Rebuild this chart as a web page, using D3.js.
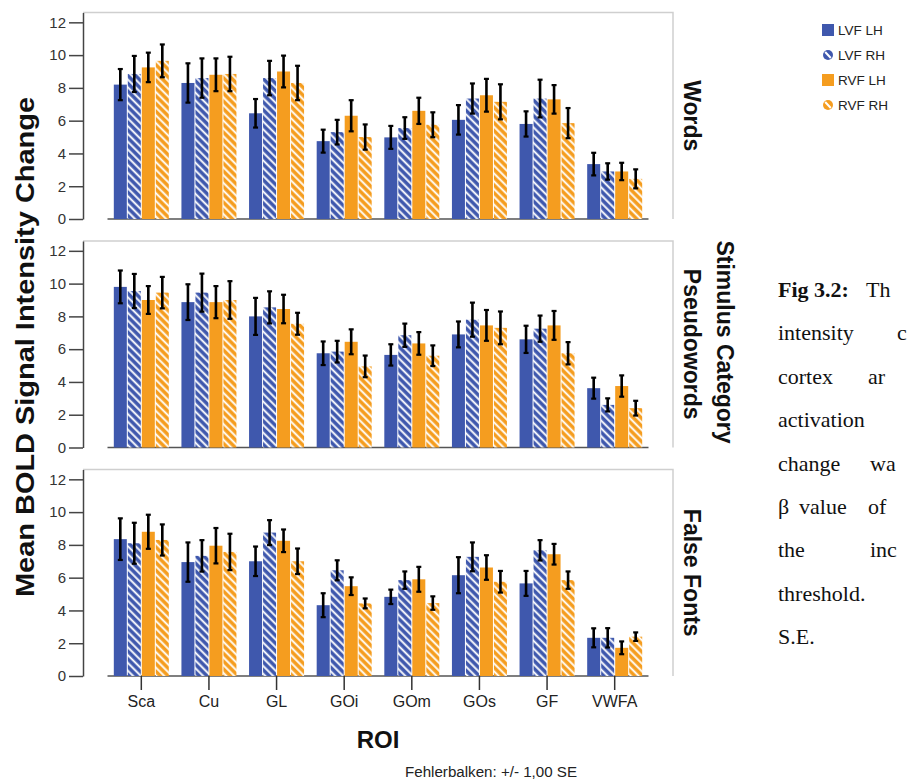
<!DOCTYPE html>
<html>
<head>
<meta charset="utf-8">
<script src="https://cdn.jsdelivr.net/npm/d3@7"></script>
<style>
body { margin: 0; background: #fff; }
svg { display: block; font-family: "Liberation Sans", Arial, sans-serif; }
</style>
</head>
<body>
<script>
// ----- data -----
const rois = ["Sca", "Cu", "GL", "GOi", "GOm", "GOs", "GF", "VWFA"];
const seriesNames = ["LVF LH", "LVF RH", "RVF LH", "RVF RH"];
const panelNames = ["Words", "Pseudowords", "False Fonts"];
const yTicks = [0, 2, 4, 6, 8, 10, 12];

// one row per ROI: [LVF LH, LVF RH, RVF LH, RVF RH]
const wordsMean = [
    [8.2, 8.85, 9.25, 9.65], [8.3, 8.6, 8.8, 8.85], [6.45, 8.6, 9.0, 8.3], [4.75, 5.3, 6.3, 5.0],
    [4.98, 5.55, 6.6, 5.75], [6.05, 7.35, 7.55, 7.15], [5.8, 7.35, 7.3, 5.85], [3.35, 2.9, 2.9, 2.45]
];
const wordsSE = [
    [0.95, 1.1, 0.9, 1.0], [1.2, 1.2, 1.0, 1.05], [0.87, 1.05, 0.97, 1.05], [0.7, 0.75, 0.95, 0.77],
    [0.7, 0.66, 0.8, 0.76], [0.9, 0.92, 1.0, 1.07], [0.77, 1.15, 0.87, 0.92], [0.69, 0.5, 0.53, 0.58]
];
const pseudoMean = [
    [9.8, 9.55, 9.0, 9.45], [8.87, 9.45, 8.87, 9.0], [8.0, 8.55, 8.45, 7.55], [5.75, 5.85, 6.45, 4.95],
    [5.65, 6.85, 6.35, 5.6], [6.9, 7.8, 7.45, 7.3], [6.6, 7.25, 7.45, 5.75], [3.62, 2.6, 3.75, 2.4]
];
const pseudoSE = [
    [1.0, 1.04, 0.85, 0.96], [1.09, 1.16, 0.98, 1.15], [1.13, 0.98, 0.87, 0.67], [0.72, 0.66, 0.76, 0.66],
    [0.65, 0.71, 0.69, 0.63], [0.79, 1.04, 0.94, 1.0], [0.83, 0.8, 0.88, 0.68], [0.64, 0.4, 0.65, 0.45]
];
const fontsMean = [
    [8.35, 8.1, 8.8, 8.3], [6.95, 7.33, 7.95, 7.57], [7.0, 8.75, 8.25, 7.0], [4.32, 6.45, 5.48, 4.43],
    [4.83, 5.85, 5.9, 4.45], [6.15, 7.27, 6.62, 5.75], [5.65, 7.67, 7.43, 5.85], [2.33, 2.33, 1.72, 2.4]
];
const fontsSE = [
    [1.27, 1.25, 1.04, 0.95], [1.2, 0.96, 1.08, 1.11], [0.9, 0.76, 0.69, 0.78], [0.73, 0.61, 0.54, 0.3],
    [0.44, 0.53, 0.76, 0.41], [1.1, 0.88, 0.75, 0.66], [0.76, 0.62, 0.63, 0.53], [0.58, 0.59, 0.39, 0.26]
];

const panelMeans = [wordsMean, pseudoMean, fontsMean];
const panelSEs = [wordsSE, pseudoSE, fontsSE];

// caption on the right, only the part that is visible in the source
const captionLines = [
    [["Fig 3.2:", true], ["Th", false]],
    [["intensity", false], ["c", false]],
    [["cortex", false], ["ar", false]],
    [["activation", false]],
    [["change", false], ["wa", false]],
    [["\u03b2", false], ["value", false], ["of", false]],
    [["the", false], ["inc", false]],
    [["threshold.", false]],
    [["S.E.", false]]
];
const captionWordX = [[778, 866], [778, 897], [778, 868], [778], [778, 870], [778, 799, 868], [778, 870], [778], [778]];

// ----- layout -----
const width = 914, height = 783;
const blue = "#3f58ad", orange = "#f59d1f";
const seriesColor = [blue, blue, orange, orange];
const seriesHatch = [false, true, false, true];

const axisX = 83, frameRight = 673;
const panelTop0 = 12.5, panelH = 206.5, panelStep = 228.5;

const svg = d3.select("body").append("svg")
    .attr("width", width)
    .attr("height", height);

// hatch patterns
const defs = svg.append("defs");
[["hatchBlue", blue], ["hatchOrange", orange]].forEach(function(p) {
    const pat = defs.append("pattern")
        .attr("id", p[0])
        .attr("patternUnits", "userSpaceOnUse")
        .attr("width", 5.5)
        .attr("height", 5.5)
        .attr("patternTransform", "rotate(-45)");
    pat.append("rect").attr("width", 5.5).attr("height", 5.5).attr("fill", p[1]);
    pat.append("line")
        .attr("x1", 1.2).attr("x2", 1.2)
        .attr("y1", 0).attr("y2", 5.5)
        .attr("stroke", "#fff")
        .attr("stroke-width", 1.9);
});

function fillFor(i) {
    if (!seriesHatch[i]) return seriesColor[i];
    return seriesColor[i] === blue ? "url(#hatchBlue)" : "url(#hatchOrange)";
}

// X scales
const x = d3.scaleBand().domain(rois).range([107.5, 648.5]).padding(0);
const xInner = d3.scaleBand().domain(d3.range(4)).range([0, 56]).padding(0);
const groupOffset = (x.bandwidth() - 56) / 2;

panelNames.forEach(function(name, p) {
    const top = panelTop0 + p * panelStep;
    const bottom = top + panelH;

    const y = d3.scaleLinear().domain([0, 12.6]).range([bottom, top]);

    const g = svg.append("g").attr("class", "panel");

    // frame (top + right)
    g.append("path")
        .attr("d", "M" + axisX + "," + top + "H" + frameRight + "V" + bottom)
        .attr("fill", "none")
        .attr("stroke", "#cfcfcf")
        .attr("stroke-width", 1.5);

    // baseline
    g.append("line")
        .attr("x1", x.range()[0]).attr("x2", x.range()[1])
        .attr("y1", y(0)).attr("y2", y(0))
        .attr("stroke", "#555")
        .attr("stroke-width", 1.5);

    // bars
    const rows = [];
    rois.forEach(function(r, ri) {
        for (let s = 0; s < 4; s++) {
            rows.push({ roi: r, s: s, mean: panelMeans[p][ri][s], se: panelSEs[p][ri][s] });
        }
    });

    g.selectAll(".bar")
        .data(rows)
        .enter()
        .append("rect")
        .attr("class", "bar")
        .attr("x", d => x(d.roi) + groupOffset + xInner(d.s) + 0.5)
        .attr("width", xInner.bandwidth() - 1)
        .attr("y", d => y(d.mean))
        .attr("height", d => y(0) - y(d.mean))
        .attr("fill", d => fillFor(d.s));

    // error bars
    const cx = d => x(d.roi) + groupOffset + xInner(d.s) + xInner.bandwidth() / 2;
    g.selectAll(".err")
        .data(rows)
        .enter()
        .append("line")
        .attr("class", "err")
        .attr("x1", cx).attr("x2", cx)
        .attr("y1", d => y(d.mean - d.se))
        .attr("y2", d => y(d.mean + d.se))
        .attr("stroke", "#000")
        .attr("stroke-width", 2.6);

    ["lo", "hi"].forEach(function(end) {
        g.selectAll(".cap-" + end)
            .data(rows)
            .enter()
            .append("line")
            .attr("x1", d => cx(d) - 2.5).attr("x2", d => cx(d) + 2.5)
            .attr("y1", d => y(end === "lo" ? d.mean - d.se : d.mean + d.se))
            .attr("y2", d => y(end === "lo" ? d.mean - d.se : d.mean + d.se))
            .attr("stroke", "#000")
            .attr("stroke-width", 2.2);
    });

    // left axis
    const ax = g.append("g")
        .attr("transform", "translate(" + axisX + ",0)")
        .call(d3.axisLeft(y).tickValues(yTicks).tickSize(14).tickSizeOuter(0).tickPadding(3));
    ax.select(".domain").attr("stroke", "#444").attr("stroke-width", 1.5);
    ax.selectAll(".tick line").attr("stroke", "#444").attr("stroke-width", 1.5);
    ax.selectAll(".tick text")
        .attr("fill", "#333")
        .style("font-size", "15px")
        .style("font-family", "'Liberation Sans', Arial, sans-serif");

    // strip label
    g.append("text")
        .attr("transform", "translate(684," + (top + panelH / 2) + ") rotate(90)")
        .attr("text-anchor", "middle")
        .style("font-size", "23px")
        .style("font-weight", "bold")
        .attr("fill", "#111")
        .text(name);

    // bottom ROI axis on the last panel
    if (p === panelNames.length - 1) {
        const bx = g.append("g")
            .attr("transform", "translate(0," + bottom + ")")
            .call(d3.axisBottom(x).tickSize(14).tickPadding(6));
        bx.select(".domain").remove();
        bx.selectAll(".tick line").attr("stroke", "#333").attr("stroke-width", 1.5);
        bx.selectAll(".tick text")
            .attr("fill", "#222")
            .style("font-size", "16px")
            .style("font-family", "'Liberation Sans', Arial, sans-serif");
    }
});

// axis titles
svg.append("text")
    .attr("transform", "translate(34,347) rotate(-90)")
    .attr("text-anchor", "middle")
    .attr("textLength", 500)
    .attr("lengthAdjust", "spacingAndGlyphs")
    .style("font-size", "25px")
    .style("font-weight", "bold")
    .attr("fill", "#111")
    .text("Mean BOLD Signal Intensity Change");

svg.append("text")
    .attr("transform", "translate(717,342) rotate(90)")
    .attr("text-anchor", "middle")
    .style("font-size", "23px")
    .style("font-weight", "bold")
    .attr("fill", "#111")
    .text("Stimulus Category");

svg.append("text")
    .attr("x", (x.range()[0] + x.range()[1]) / 2)
    .attr("y", 748)
    .attr("text-anchor", "middle")
    .style("font-size", "24px")
    .style("font-weight", "bold")
    .attr("fill", "#111")
    .text("ROI");

svg.append("text")
    .attr("x", 405)
    .attr("y", 777)
    .attr("textLength", 172)
    .attr("lengthAdjust", "spacingAndGlyphs")
    .style("font-size", "14px")
    .attr("fill", "#222")
    .text("Fehlerbalken: +/- 1,00 SE");

// legend
const legend = svg.append("g").attr("class", "legend");
const legendY = [30, 55, 80, 105];
seriesNames.forEach(function(n, i) {
    const ly = legendY[i];
    if (seriesHatch[i]) {
        legend.append("circle")
            .attr("cx", 828).attr("cy", ly)
            .attr("r", 5)
            .attr("fill", seriesColor[i]);
        legend.append("line")
            .attr("x1", 825.2).attr("y1", ly - 3)
            .attr("x2", 830.8).attr("y2", ly + 3)
            .attr("stroke", "#fff")
            .attr("stroke-width", 2);
    } else {
        legend.append("rect")
            .attr("x", 822).attr("y", ly - 6)
            .attr("width", 12).attr("height", 12)
            .attr("fill", seriesColor[i]);
    }
    legend.append("text")
        .attr("x", 838).attr("y", ly + 5)
        .style("font-size", "13.5px")
        .attr("fill", "#222")
        .text(n);
});

// caption
const cap = svg.append("g")
    .style("font-family", "'Liberation Serif', 'Times New Roman', serif")
    .style("font-size", "22px")
    .attr("fill", "#111");
captionLines.forEach(function(line, li) {
    line.forEach(function(w, wi) {
        cap.append("text")
            .attr("x", captionWordX[li][wi])
            .attr("y", 297 + li * 43.4)
            .style("font-weight", w[1] ? "bold" : "normal")
            .text(w[0]);
    });
});
</script>
</body>
</html>
